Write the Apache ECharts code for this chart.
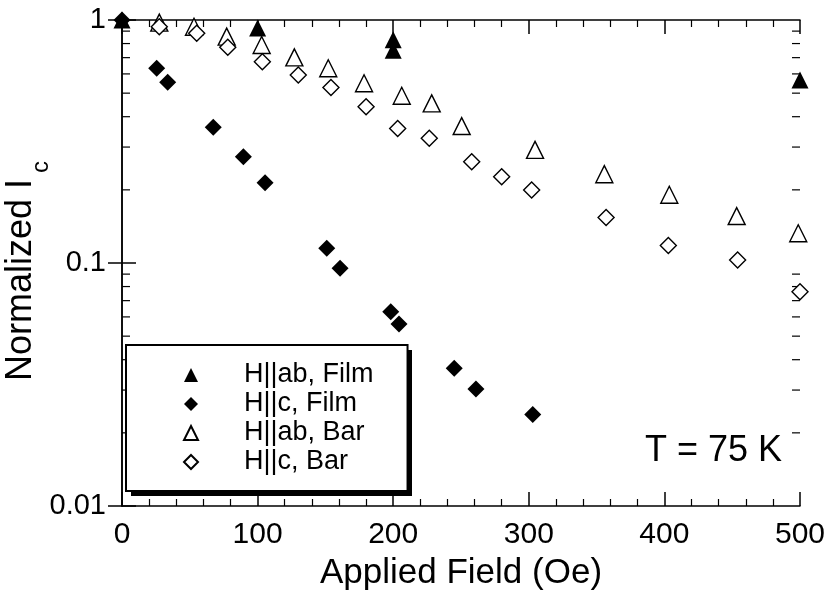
<!DOCTYPE html>
<html>
<head>
<meta charset="utf-8">
<title>Normalized Ic vs Applied Field</title>
<script src="https://cdn.jsdelivr.net/npm/echarts@6/dist/echarts.min.js"></script>
<style>
  html, body { margin: 0; padding: 0; background: #fff; }
  #chart { width: 831px; height: 590px; }
</style>
</head>
<body>
<div id="chart"></div>
<script>
// applied field (Oe) and normalized Ic
const abFilmField = [0, 100, 200, 200, 500]
const abFilmIc = [1.0, 0.927, 0.83, 0.75, 0.566]

const cFilmField = [0, 25.6, 33.7, 67.3, 89.5, 105.5, 151, 160.8, 198.2, 204.3, 245, 261, 302.9]
const cFilmIc = [1.0, 0.633, 0.554, 0.362, 0.274, 0.214, 0.115, 0.0951, 0.063, 0.0561, 0.0369, 0.0303, 0.0238]

const abBarField = [27.5, 53.1, 77.2, 103, 127.1, 152.1, 178.5, 206.3, 228.4, 250.5, 304.6, 355.7, 403.6, 453.3, 498.7]
const abBarIc = [0.975, 0.938, 0.854, 0.789, 0.702, 0.633, 0.549, 0.488, 0.454, 0.366, 0.292, 0.232, 0.191, 0.156, 0.1325]

const cBarField = [27.5, 55.1, 78, 103.5, 130, 154.1, 180, 203.3, 226.6, 257.9, 280, 302.1, 357, 402.9, 454, 500]
const cBarIc = [0.938, 0.882, 0.772, 0.674, 0.594, 0.528, 0.44, 0.358, 0.326, 0.261, 0.2265, 0.1998, 0.154, 0.118, 0.1029, 0.0762]

// log minor ticks (2..9 in each decade)
const minorTickVals = [0.02, 0.03, 0.04, 0.05, 0.06, 0.07, 0.08, 0.09, 0.2, 0.3, 0.4, 0.5, 0.6, 0.7, 0.8, 0.9]

const seriesNames = ['H||ab, Film', 'H||c, Film', 'H||ab, Bar', 'H||c, Bar']

const FONT = 'Liberation Sans'
const zip = (xs, ys) => xs.map((x, i) => [x, ys[i]])

const chart = echarts.init(document.getElementById('chart'))

const xAxisCommon = {
  type: 'value',
  min: 0,
  max: 500,
  interval: 100,
  axisLine: { show: true, lineStyle: { color: '#000', width: 1.5 } },
  axisTick: { show: true, inside: true, length: 14, lineStyle: { color: '#000', width: 1.5 } },
  minorTick: { show: true, splitNumber: 5, length: 7, lineStyle: { color: '#000', width: 1.2 } },
  splitLine: { show: false }
}

const yAxisCommon = {
  type: 'log',
  logBase: 10,
  min: 0.01,
  max: 1,
  axisLine: { show: true, lineStyle: { color: '#000', width: 1.5 } },
  axisTick: { show: true, inside: true, length: 14, lineStyle: { color: '#000', width: 1.5 } },
  splitLine: { show: false }
}

const option = {
  backgroundColor: '#fff',
  animation: false,
  textStyle: { fontFamily: FONT, color: '#000' },
  grid: { left: 122, right: 31, top: 20, bottom: 84, containLabel: false, outerBoundsMode: 'none' },
  title: {
    text: 'T = 75 K',
    left: 640,
    top: 428,
    textStyle: { fontFamily: FONT, fontSize: 36, fontWeight: 'normal', color: '#000' }
  },
  graphic: [
    // drop shadow of the legend box
    { type: 'rect', left: 131, top: 350, shape: { width: 281, height: 146 }, style: { fill: '#000' }, silent: true },
    // y axis title with subscript
    {
      type: 'text',
      x: 21,
      y: 271,
      rotation: Math.PI / 2,
      silent: true,
      style: {
        text: '{n|Normalized I}{s|c}',
        align: 'center',
        verticalAlign: 'middle',
        fill: '#000',
        rich: {
          n: { fontFamily: FONT, fontSize: 36, lineHeight: 64, fill: '#000' },
          s: { fontFamily: FONT, fontSize: 24, lineHeight: 24, verticalAlign: 'bottom', fill: '#000', padding: [0, 0, 0, 6] }
        }
      }
    }
  ],
  legend: {
    orient: 'vertical',
    left: 126,
    top: 345,
    data: seriesNames,
    itemWidth: 14,
    itemHeight: 14,
    itemGap: 1,
    padding: [16, 34, 15, 57],
    backgroundColor: '#fff',
    borderColor: '#000',
    borderWidth: 2,
    formatter: name => '{g|}' + name,
    textStyle: {
      fontFamily: FONT,
      fontSize: 27,
      lineHeight: 28,
      color: '#000',
      rich: { g: { width: 41 } }
    }
  },
  xAxis: [
    Object.assign({}, xAxisCommon, {
      position: 'bottom',
      name: 'Applied Field (Oe)',
      nameLocation: 'middle',
      nameGap: 50,
      nameTextStyle: { fontFamily: FONT, fontSize: 35, color: '#000' },
      axisLabel: { fontFamily: FONT, fontSize: 30, color: '#000', margin: 14 }
    }),
    Object.assign({}, xAxisCommon, {
      position: 'top',
      axisLabel: { show: false }
    })
  ],
  yAxis: [
    Object.assign({}, yAxisCommon, {
      position: 'left',
      axisLabel: { fontFamily: FONT, fontSize: 29, color: '#000', margin: 16 }
    }),
    Object.assign({}, yAxisCommon, {
      position: 'right',
      axisLabel: { show: false }
    })
  ],
  series: [
    {
      // log minor ticks on left and right edges
      type: 'custom',
      silent: true,
      clip: false,
      z: 1,
      data: minorTickVals.map(v => [0, v]),
      renderItem: (params, api) => {
        const p = api.coord([0, api.value(1)])
        const cs = params.coordSys
        const style = { stroke: '#000', lineWidth: 1.2 }
        return {
          type: 'group',
          children: [
            { type: 'line', shape: { x1: cs.x, y1: p[1], x2: cs.x + 8, y2: p[1] }, style },
            { type: 'line', shape: { x1: cs.x + cs.width - 8, y1: p[1], x2: cs.x + cs.width, y2: p[1] }, style }
          ]
        }
      }
    },
    {
      name: seriesNames[0],
      type: 'scatter',
      symbol: 'triangle',
      symbolSize: 17,
      itemStyle: { color: '#000', opacity: 1 },
      data: zip(abFilmField, abFilmIc),
      z: 5
    },
    {
      name: seriesNames[1],
      type: 'scatter',
      symbol: 'diamond',
      symbolSize: 17,
      itemStyle: { color: '#000', opacity: 1 },
      data: zip(cFilmField, cFilmIc),
      z: 5
    },
    {
      name: seriesNames[2],
      type: 'scatter',
      symbol: 'triangle',
      symbolSize: 17,
      itemStyle: { color: '#fff', borderColor: '#000', borderWidth: 1.4, opacity: 1 },
      data: zip(abBarField, abBarIc),
      z: 4
    },
    {
      name: seriesNames[3],
      type: 'scatter',
      symbol: 'diamond',
      symbolSize: 16,
      itemStyle: { color: '#fff', borderColor: '#000', borderWidth: 1.4, opacity: 1 },
      data: zip(cBarField, cBarIc),
      z: 4
    }
  ]
}

chart.setOption(option)
</script>
</body>
</html>
